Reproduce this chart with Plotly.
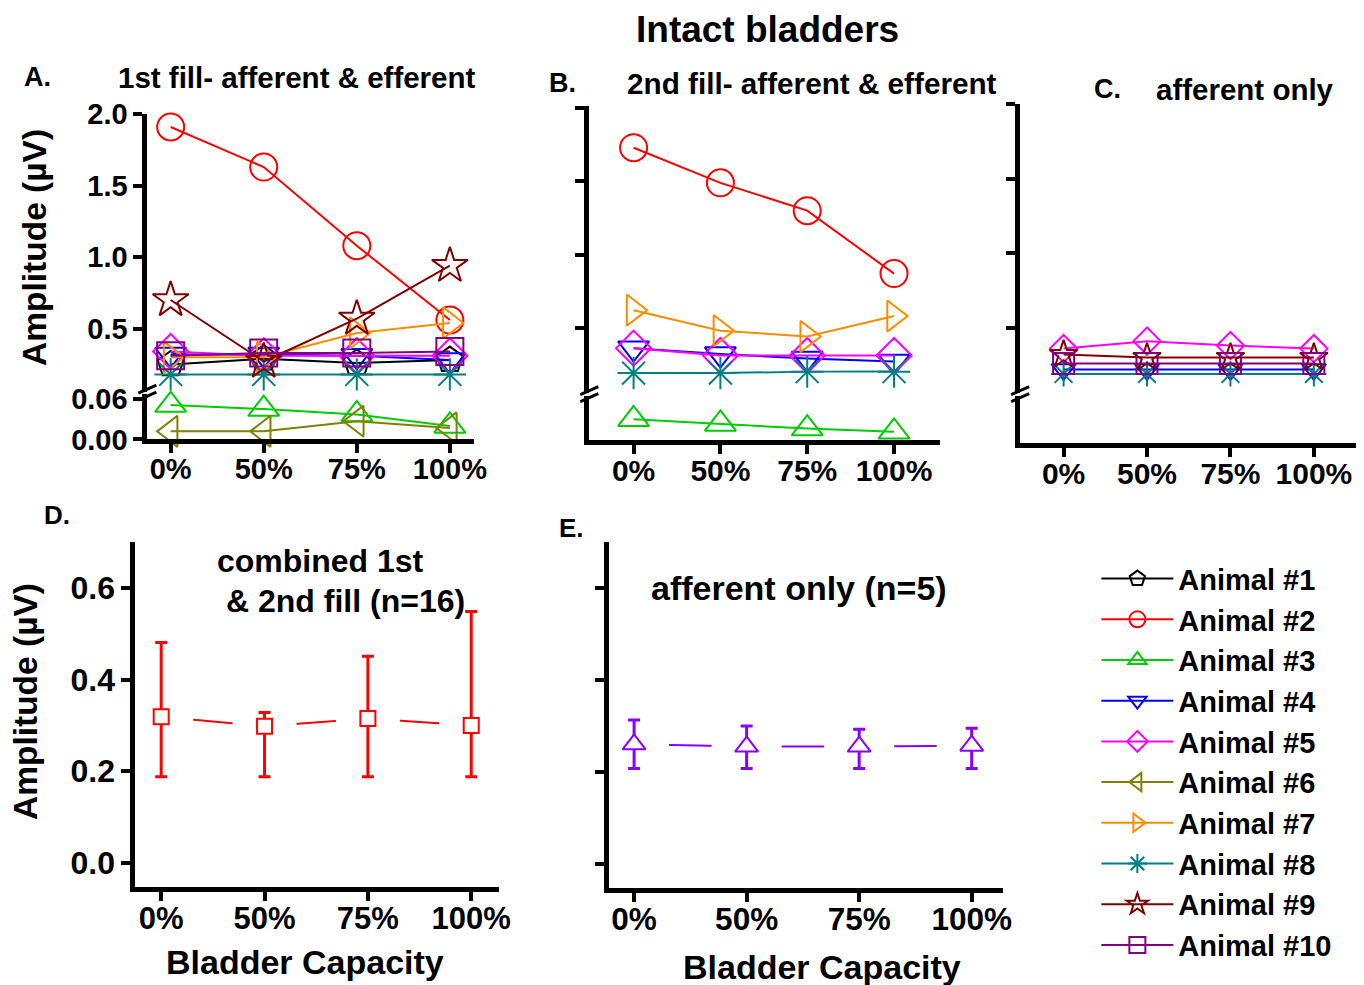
import plotly.graph_objects as go

W, H = 1364, 985
FONT = "Liberation Sans, Arial, sans-serif"

# ---------------- data ----------------
categories = ["0%", "50%", "75%", "100%"]
animal_names = ["Animal #1", "Animal #2", "Animal #3", "Animal #4", "Animal #5",
                "Animal #6", "Animal #7", "Animal #8", "Animal #9", "Animal #10"]

# Panel A: 1st fill - afferent & efferent (µV)
fill1_a1 = [0.25, 0.29, 0.26, 0.28]
fill1_a2 = [1.91, 1.63, 1.08, 0.56]
fill1_a3 = [0.051, 0.045, 0.037, 0.020]
fill1_a4 = [0.32, 0.32, 0.31, 0.28]
fill1_a5 = [0.34, 0.31, 0.31, 0.31]
fill1_a6 = [0.012, 0.012, 0.027, 0.017]
fill1_a7 = [0.30, 0.30, 0.47, 0.54]
fill1_a8 = [0.18, 0.18, 0.18, 0.18]
fill1_a9 = [0.70, 0.27, 0.57, 0.94]
fill1_a10 = [0.31, 0.33, 0.33, 0.34]

# Panel B: 2nd fill - afferent & efferent (µV)
fill2_a2 = [1.73, 1.49, 1.30, 0.87]
fill2_a3 = [0.032, 0.025, 0.018, 0.013]
fill2_a4 = [0.36, 0.32, 0.29, 0.27]
fill2_a5 = [0.36, 0.31, 0.31, 0.31]
fill2_a7 = [0.62, 0.48, 0.44, 0.58]
fill2_a8 = [0.19, 0.19, 0.20, 0.20]

# Panel C: afferent only (µV)
aff_a4 = [0.22, 0.22, 0.22, 0.22]
aff_a5 = [0.36, 0.41, 0.38, 0.36]
aff_a8 = [0.19, 0.19, 0.19, 0.19]
aff_a9 = [0.32, 0.30, 0.30, 0.30]
aff_a10 = [0.26, 0.26, 0.26, 0.26]

# Panel D: combined 1st & 2nd fill (n=16)
combined_mean = [0.319, 0.298, 0.315, 0.300]
combined_upper = [0.481, 0.328, 0.451, 0.549]
combined_lower = [0.188, 0.188, 0.188, 0.188]

# Panel E: afferent only (n=5)
afferent_mean = [0.260, 0.255, 0.255, 0.257]
afferent_upper = [0.313, 0.300, 0.293, 0.295]
afferent_lower = [0.207, 0.207, 0.207, 0.207]

# ---------------- styles ----------------
colors = ["#000000", "#FF0000", "#00CC00", "#0000FF", "#FF00FF",
          "#808000", "#FF8C00", "#008080", "#800000", "#800080"]
symbols = ["pentagon-open", "circle-open", "triangle-up-open", "triangle-down-open",
           "diamond-open", "triangle-left-open", "triangle-right-open",
           "asterisk-open", "star-open", "square-open"]

panel_a = [fill1_a1, fill1_a2, fill1_a3, fill1_a4, fill1_a5,
           fill1_a6, fill1_a7, fill1_a8, fill1_a9, fill1_a10]
panel_b = {1: fill2_a2, 2: fill2_a3, 3: fill2_a4, 4: fill2_a5, 6: fill2_a7, 7: fill2_a8}
panel_c = {3: aff_a4, 4: aff_a5, 7: aff_a8, 8: aff_a9, 9: aff_a10}

# page -> photo compensation (page has a small offset and is scaled into the window)
SX, OX = 0.9884, 8.0
SY, OY = 0.9695, 23.4


def fx(t):
    return t / SX - OX


def fy(t):
    return t / SY - OY


def px_x(t):
    return fx(t) / W


def px_y(t):
    return 1 - fy(t) / H


def dom_x(a, b):
    return [px_x(a), px_x(b)]


def dom_y(top, bottom):
    return [px_y(bottom), px_y(top)]


fig = go.Figure()


def add_animal(idx, vals, xa, y_up, y_low, size, show):
    low = max(vals) < 0.066
    fig.add_trace(go.Scatter(
        x=categories, y=vals, xaxis=xa, yaxis=(y_low if low else y_up),
        mode="lines+markers", name=animal_names[idx], legendgroup=animal_names[idx],
        showlegend=show,
        line=dict(color=colors[idx], width=2),
        marker=dict(symbol=symbols[idx], size=size, color=colors[idx],
                    line=dict(color=colors[idx], width=2)),
        cliponaxis=False,
    ))


for i, v in enumerate(panel_a):
    add_animal(i, v, "x", "y", "y2", 27, True)
for i, v in panel_b.items():
    add_animal(i, v, "x2", "y3", "y4", 27, False)
for i, v in panel_c.items():
    add_animal(i, v, "x3", "y5", "y6", 21, False)

# panel C has no values in its lower segment: keep that segment's axes alive
fig.add_trace(go.Scatter(x=[], y=[], xaxis="x3", yaxis="y6", showlegend=False,
                         hoverinfo="skip"))


def add_summary(mean, upper, lower, color, sym, size, gap, xa, ya):
    fig.add_trace(go.Scatter(x=categories, y=mean, xaxis=xa, yaxis=ya, mode="lines",
                             line=dict(color=color, width=2), showlegend=False,
                             hoverinfo="skip"))
    fig.add_trace(go.Scatter(x=categories, y=mean, xaxis=xa, yaxis=ya, mode="markers",
                             marker=dict(symbol="square", size=gap, color="white",
                                         line=dict(width=0)),
                             showlegend=False, hoverinfo="skip"))
    fig.add_trace(go.Scatter(
        x=categories, y=mean, xaxis=xa, yaxis=ya, mode="markers", showlegend=False,
        marker=dict(symbol=sym, size=size, color="white", line=dict(color=color, width=2)),
        error_y=dict(type="data", symmetric=False,
                     array=[u - m for u, m in zip(upper, mean)],
                     arrayminus=[m - l for m, l in zip(mean, lower)],
                     color=color, thickness=3, width=6),
    ))


add_summary(combined_mean, combined_upper, combined_lower, "#FF0000", "square", 15, 64, "x4", "y7")
add_summary(afferent_mean, afferent_upper, afferent_lower, "#8800FF", "triangle-up", 20, 70, "x5", "y8")


# ---------------- axes ----------------
def tf(size):
    return dict(family=FONT, size=size, color="black", weight="bold")


base = dict(showline=True, linecolor="black", linewidth=5, ticks="outside", ticklen=9,
            tickwidth=4, tickcolor="black", showgrid=False, zeroline=False, fixedrange=True)


def xax(d, r, anchor, fsize):
    return dict(base, domain=d, range=r, anchor=anchor, type="category",
                categoryorder="array", categoryarray=categories, tickfont=tf(fsize),
                ticklabelstandoff=-9)


yticks_up = [0.5, 1.0, 1.5, 2.0]
yticks_up_text = ["0.5", "1.0", "1.5", "2.0"]
yticks_d = [0.0, 0.2, 0.4, 0.6]
yticks_d_text = ["0.0", "0.2", "0.4", "0.6"]

fig.update_layout(
    xaxis=xax(dom_x(147, 473), [-0.25, 3.26], "y2", 29),
    yaxis=dict(base, domain=dom_y(113, 391), range=[0.06, 2.0], anchor="x",
               tickvals=yticks_up, ticktext=yticks_up_text, tickfont=tf(29)),
    yaxis2=dict(base, domain=dom_y(393, 439), range=[0, 0.068], anchor="x",
                tickvals=[0.0, 0.06], ticktext=["0.00", "0.06"], tickfont=tf(29)),
    xaxis2=xax(dom_x(588, 938), [-0.51, 3.53], "y4", 30),
    yaxis3=dict(base, domain=dom_y(105, 392), range=[0.057, 2.014], anchor="x2",
                tickvals=yticks_up, showticklabels=False),
    yaxis4=dict(base, domain=dom_y(395, 440), range=[0, 0.068], anchor="x2",
                ticks="", showticklabels=False),
    xaxis3=xax(dom_x(1018, 1356), [-0.52, 3.54], "y6", 30),
    yaxis5=dict(base, domain=dom_y(103, 392), range=[0.065, 2.0], anchor="x3",
                tickvals=yticks_up, showticklabels=False),
    yaxis6=dict(base, domain=dom_y(395, 443), range=[0, 0.068], anchor="x3",
                ticks="", showticklabels=False),
    xaxis4=xax(dom_x(135, 498), [-0.25, 3.27], "y7", 31),
    yaxis7=dict(base, domain=dom_y(542, 887), range=[-0.052, 0.70], anchor="x4",
                tickvals=yticks_d, ticktext=yticks_d_text, tickfont=tf(32)),
    xaxis5=xax(dom_x(608, 1001), [-0.22, 3.28], "y8", 31.5),
    yaxis8=dict(base, domain=dom_y(542, 888), range=[-0.052, 0.70], anchor="x5",
                tickvals=yticks_d, showticklabels=False),
)

# ---------------- axis break marks ----------------
shapes = []
for ax_x, yb in [(147, 392), (588, 393.5), (1018, 393.5)]:
    for off in (-3.5, 3.5):
        shapes.append(dict(type="line", xref="paper", yref="paper",
                           x0=px_x(ax_x - 9), y0=px_y(yb + off + 4),
                           x1=px_x(ax_x + 9), y1=px_y(yb + off - 4),
                           line=dict(color="black", width=3)))
fig.update_layout(shapes=shapes)


# ---------------- text ----------------
def ann(text, x, y, size, xanchor="center", angle=0):
    return dict(text=text, x=px_x(x), y=px_y(y), xref="paper", yref="paper",
                xanchor=xanchor, yanchor="middle", showarrow=False, textangle=angle,
                font=tf(size))


annotations = [
    ann("Intact bladders", 766, 28, 37),
    ann("A.", 22, 76, 27, "left"),
    ann("1st fill- afferent &amp; efferent", 296, 76, 29.5),
    ann("B.", 546, 82, 27, "left"),
    ann("2nd fill- afferent &amp; efferent", 810, 82, 29.7),
    ann("C.", 1090, 88, 27, "left"),
    ann("afferent only", 1242, 88, 29.5),
    ann("Amplitude (µV)", 35, 247, 33.5, angle=-90),
    ann("D.", 42, 515, 26, "left"),
    ann("combined 1st", 320, 561, 32),
    ann("&amp; 2nd fill (n=16)", 345, 601, 32),
    ann("Amplitude (µV)", 26, 702, 33.5, angle=-90),
    ann("Bladder Capacity", 304, 963, 34),
    ann("E.", 556, 528, 26, "left"),
    ann("afferent only (n=5)", 797, 588, 34),
    ann("Bladder Capacity", 820, 968, 34),
]

fig.update_layout(
    width=W, height=H,
    margin=dict(l=0, r=0, t=0, b=0),
    paper_bgcolor="white", plot_bgcolor="white",
    annotations=annotations,
    showlegend=True,
    legend=dict(x=px_x(1094), y=px_y(553), xanchor="left", yanchor="top",
                font=tf(29), traceorder="grouped", tracegroupgap=0, itemwidth=72,
                bgcolor="rgba(0,0,0,0)"),
)

fig.write_html("out.html")
